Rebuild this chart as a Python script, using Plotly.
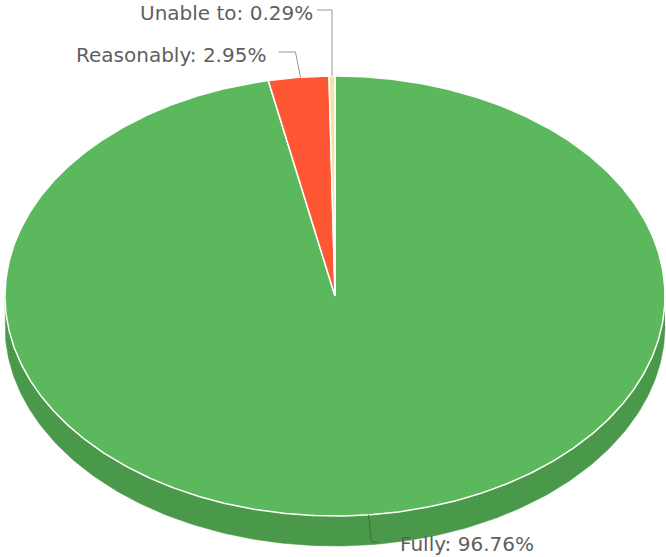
import numpy as np
import plotly.graph_objects as go

labels = ["Fully", "Reasonably", "Unable to"]
values = [96.76, 2.95, 0.29]
top_colors = ["#5cb85c", "#ff5733", "#f2e2a6"]
side_colors = ["#4a994a", "#d9442a", "#d8c68c"]

W, H = 666, 557
cx, cy, rx, ry, depth = 335, 296, 330, 220, 30

def pt(deg, dy=0):
    r = np.radians(deg)
    return cx + rx * np.sin(r), cy - ry * np.cos(r) + dy

fig = go.Figure()
total = sum(values)
starts = []
a = 0.0
for v in values:
    starts.append((a, a + v / total * 360))
    a += v / total * 360

# sides (front visible part: 90..270 degrees)
for (a0, a1), col in zip(starts, side_colors):
    s0, s1 = max(a0, 90), min(a1, 270)
    if s1 <= s0:
        continue
    angs = np.linspace(s0, s1, 200)
    xs_t, ys_t = pt(angs)
    xs_b, ys_b = pt(angs[::-1], depth)
    fig.add_trace(go.Scatter(x=list(xs_t) + list(xs_b), y=list(ys_t) + list(ys_b),
                             fill="toself", fillcolor=col, mode="lines",
                             line=dict(color=col, width=0.5), hoverinfo="skip",
                             showlegend=False))

# top faces
for (a0, a1), col, lab, v in zip(starts, top_colors, labels, values):
    angs = np.linspace(a0, a1, max(int((a1 - a0) * 2), 4))
    xs, ys = pt(angs)
    fig.add_trace(go.Scatter(x=[cx] + list(xs) + [cx], y=[cy] + list(ys) + [cy],
                             fill="toself", fillcolor=col, mode="lines",
                             line=dict(color="white", width=1.5),
                             name=lab, hoverinfo="text",
                             text=f"{lab}: {v:.2f}%", showlegend=False))

# leader lines and labels
lc = "#999999"
font = dict(family="DejaVu Sans", size=20, color="#5f5f5f")
# Fully
mid = (starts[0][0] + starts[0][1]) / 2
x0, y0 = pt(mid)
fig.add_trace(go.Scatter(x=[x0, x0 + 3, x0 + 9], y=[y0, 542, 542], mode="lines",
                         line=dict(color="#3a6e3a", width=1), hoverinfo="skip", showlegend=False))
fig.add_annotation(x=x0 + 29, y=544, text=f"{labels[0]}: {values[0]:.2f}%", showarrow=False,
                   xanchor="left", yanchor="middle", font=font)
# Reasonably
mid = (starts[1][0] + starts[1][1]) / 2
x0, y0 = pt(mid)
fig.add_trace(go.Scatter(x=[x0 + 2, x0 - 3, x0 - 20], y=[y0, 52, 52], mode="lines",
                         line=dict(color=lc, width=1), hoverinfo="skip", showlegend=False))
fig.add_annotation(x=x0 - 30, y=55, text=f"{labels[1]}: {values[1]:.2f}%", showarrow=False,
                   xanchor="right", yanchor="middle", font=font)
# Unable to
mid = (starts[2][0] + starts[2][1]) / 2
x0, y0 = pt(mid)
fig.add_trace(go.Scatter(x=[x0, x0, x0 - 15], y=[y0, 10, 10], mode="lines",
                         line=dict(color=lc, width=1), hoverinfo="skip", showlegend=False))
fig.add_annotation(x=x0 - 17, y=13, text=f"{labels[2]}: {values[2]:.2f}%", showarrow=False,
                   xanchor="right", yanchor="middle", font=font)

fig.update_layout(width=W, height=H, margin=dict(l=0, r=0, t=0, b=0),
                  paper_bgcolor="white", plot_bgcolor="white",
                  xaxis=dict(range=[0, W], visible=False, fixedrange=True),
                  yaxis=dict(range=[H, 0], visible=False, fixedrange=True))
fig.write_html("out.html", config={"displayModeBar": False},
               post_script="document.body.style.margin='0';document.body.style.overflow='hidden';")
